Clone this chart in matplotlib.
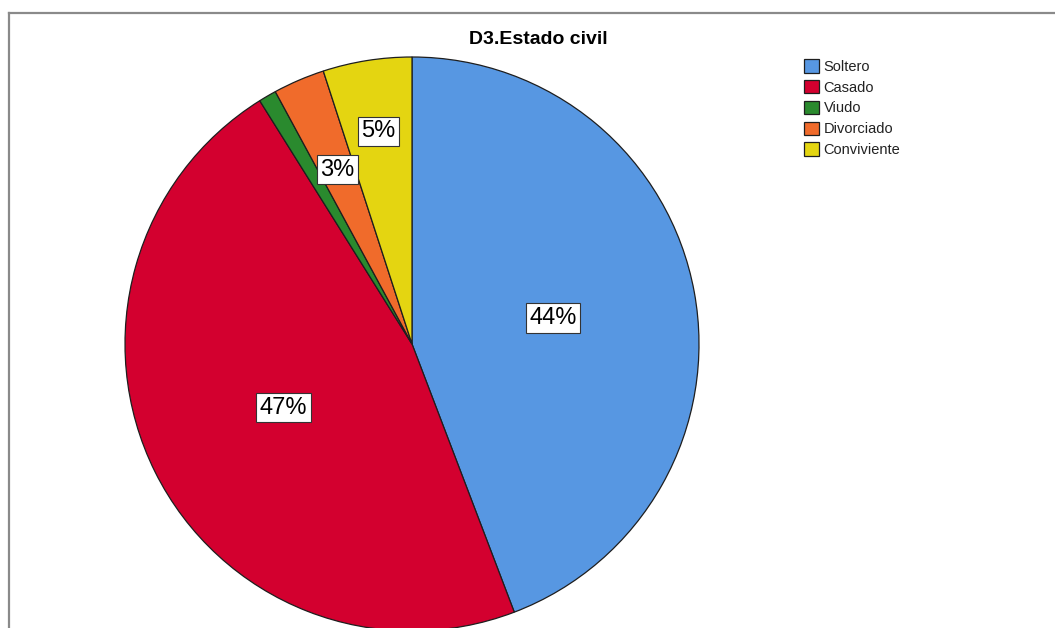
import numpy as np
import matplotlib.pyplot as plt
from matplotlib.lines import Line2D

plt.rcParams['font.family'] = ['Liberation Sans', 'DejaVu Sans']

# estado civil, porcentajes
categorias = ["Soltero", "Casado", "Viudo", "Divorciado", "Conviviente"]
porcentajes = [44.2, 46.9, 1.0, 2.9, 5.0]
colores = ["#5797e2", "#d3002f", "#2a8a2e", "#f06b2b", "#e4d511"]
# distancia radial de cada etiqueta (None = sin etiqueta)
dist_etiqueta = [0.5, 0.5, None, 0.66, 0.75]

W, H = 1055, 628
fig = plt.figure(figsize=(W / 100, H / 100), dpi=100)

# eje del pastel: centro (412, 344) px, radio 287 px
cx, cy, r = 412, 344, 287
ax = fig.add_axes([(cx - r) / W, (H - cy - r) / H, 2 * r / W, 2 * r / H])
wedges, _ = ax.pie(porcentajes, colors=colores, startangle=90, counterclock=False,
                   radius=1, wedgeprops=dict(edgecolor="#1e1e1e", linewidth=0.9))
ax.set_xlim(-1, 1)
ax.set_ylim(-1, 1)
ax.set_aspect("equal")
ax.axis("off")

# etiquetas de porcentaje dentro de cada sector
for w, p, d in zip(wedges, porcentajes, dist_etiqueta):
    if d is None:
        continue
    ang = np.deg2rad((w.theta1 + w.theta2) / 2)
    ax.text(d * np.cos(ang), d * np.sin(ang), f"{round(p)}%", ha="center", va="center",
            fontsize=17, color="black",
            bbox=dict(boxstyle="square,pad=0.15", facecolor="white", edgecolor="#333333", linewidth=0.8))

fig.text(538 / W, 1 - 40 / H, "D3.Estado civil", ha="center", va="center",
         fontsize=14, fontweight="bold")

leg = fig.legend(wedges, categorias, loc="upper left", bbox_to_anchor=(804 / W, 1 - 59 / H),
                 frameon=False, fontsize=10.5, handlelength=1.05, handleheight=1.05,
                 handletextpad=0.3, labelspacing=0.42, borderaxespad=0, borderpad=0)
for t in leg.get_texts():
    t.set_color("#222222")

# marco gris
fig.add_artist(Line2D([8.5 / W, 1], [1 - 12.5 / H, 1 - 12.5 / H], color="#8a8a8a", lw=1.6,
                      transform=fig.transFigure))
fig.add_artist(Line2D([8.5 / W, 8.5 / W], [0, 1 - 12.5 / H], color="#8a8a8a", lw=1.6,
                      transform=fig.transFigure))

fig.savefig("out.png", dpi=100)
